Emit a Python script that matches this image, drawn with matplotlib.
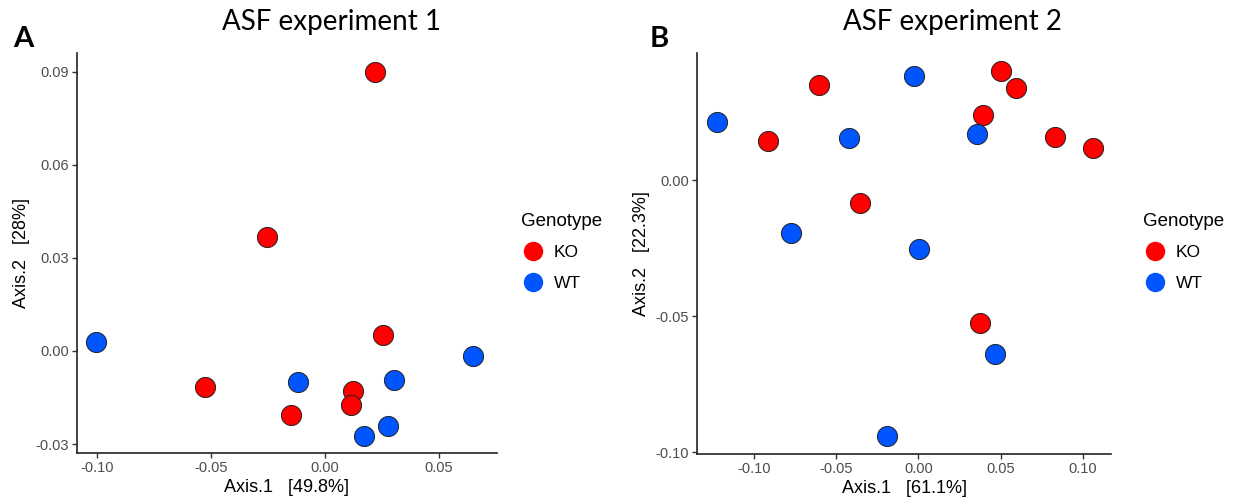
import matplotlib.pyplot as plt
from matplotlib.lines import Line2D

# ASF experiment 1 (PCoA coordinates)
exp1_ko_x = [0.022, -0.0255, 0.0254, -0.0525, 0.0125, 0.0113, -0.0151]
exp1_ko_y = [0.090, 0.0368, 0.0052, -0.0115, -0.0129, -0.0174, -0.0206]
exp1_wt_x = [-0.1004, -0.0117, 0.0649, 0.0305, 0.0276, 0.0173]
exp1_wt_y = [0.003, -0.0101, -0.0015, -0.0094, -0.0241, -0.0273]

# ASF experiment 2
exp2_ko_x = [-0.0916, -0.0602, -0.0355, 0.0503, 0.0592, 0.0392, 0.0827, 0.1061, 0.0375]
exp2_ko_y = [0.0143, 0.0349, -0.0086, 0.0401, 0.0337, 0.0239, 0.0159, 0.0119, -0.0527]
exp2_wt_x = [-0.1226, -0.0422, -0.0774, -0.0026, 0.0002, 0.0355, 0.0467, -0.0189]
exp2_wt_y = [0.0213, 0.0153, -0.0196, 0.0382, -0.0255, 0.0168, -0.0641, -0.094]

x_ticks1 = [-0.10, -0.05, 0.00, 0.05]
y_ticks1 = [-0.03, 0.00, 0.03, 0.06, 0.09]
x_ticks2 = [-0.10, -0.05, 0.00, 0.05, 0.10]
y_ticks2 = [-0.10, -0.05, 0.00]

ko_color = '#FF0000'
wt_color = '#0055FF'

W, H = 1238, 503
fig = plt.figure(figsize=(W / 100, H / 100), dpi=100)


def px_box(x0, x1, y0, y1):
    # pixel box (top-left origin) -> figure fraction
    return [x0 / W, 1 - y1 / H, (x1 - x0) / W, (y1 - y0) / H]


panels = [
    dict(box=px_box(77, 497, 53, 453), kx=exp1_ko_x, ky=exp1_ko_y, wx=exp1_wt_x, wy=exp1_wt_y,
         xt=x_ticks1, yt=y_ticks1, xlim=(-0.1088, 0.0755), ylim=(-0.0329, 0.0961),
         title='ASF experiment 1', letter='A', xlab='Axis.1   [49.8%]', ylab='Axis.2   [28%]',
         title_x=332, letter_x=13, leg_x=512),
    dict(box=px_box(697, 1111, 53, 454), kx=exp2_ko_x, ky=exp2_ko_y, wx=exp2_wt_x, wy=exp2_wt_y,
         xt=x_ticks2, yt=y_ticks2, xlim=(-0.1346, 0.117), ylim=(-0.1007, 0.0467),
         title='ASF experiment 2', letter='B', xlab='Axis.1   [61.1%]', ylab='Axis.2   [22.3%]',
         title_x=952, letter_x=650, leg_x=1134),
]

for p in panels:
    ax = fig.add_axes(p['box'])
    ax.scatter(p['kx'], p['ky'], s=210, color=ko_color, edgecolor='#222222', linewidth=0.7, zorder=3)
    ax.scatter(p['wx'], p['wy'], s=210, color=wt_color, edgecolor='#222222', linewidth=0.7, zorder=3)
    ax.set_xlim(*p['xlim'])
    ax.set_ylim(*p['ylim'])
    ax.set_xticks(p['xt'])
    ax.set_yticks(p['yt'])
    ax.set_xticklabels([f'{v:.2f}' for v in p['xt']])
    ax.set_yticklabels([f'{v:.2f}' for v in p['yt']])
    for side in ['top', 'right']:
        ax.spines[side].set_visible(False)
    for side in ['left', 'bottom']:
        ax.spines[side].set_linewidth(1.2)
        ax.spines[side].set_color('#222222')
    ax.tick_params(axis='both', length=3.5, width=1, color='#333333', labelcolor='#4D4D4D',
                   labelsize=10.5, pad=2)
    for lab in ax.get_xticklabels() + ax.get_yticklabels():
        lab.set_fontfamily('Liberation Sans')
    ax.set_xlabel(p['xlab'], fontsize=13, family='Liberation Sans', labelpad=3)
    ax.set_ylabel(p['ylab'], fontsize=13, family='Liberation Sans', labelpad=4)

    fig.text(p['title_x'] / W, 1 - 22 / H, p['title'], fontsize=20, family='Lato',
             ha='center', va='center')
    fig.text(p['letter_x'] / W, 1 - 39 / H, p['letter'], fontsize=21, family='Lato',
             weight='bold', ha='left', va='center')

    handles = [Line2D([], [], marker='o', linestyle='none', markersize=14,
                      markerfacecolor=ko_color, markeredgecolor='none'),
               Line2D([], [], marker='o', linestyle='none', markersize=14,
                      markerfacecolor=wt_color, markeredgecolor='none')]
    leg = fig.legend(handles, ['KO', 'WT'], title='Genotype', loc='upper left',
                     bbox_to_anchor=(p['leg_x'] / W, 1 - 204 / H), frameon=False,
                     borderpad=0, labelspacing=0.9, handletextpad=0.5, handlelength=1.4,
                     prop={'family': 'Liberation Sans', 'size': 12.5})
    leg.get_title().set_fontsize(13.5)
    leg.get_title().set_fontfamily('Liberation Sans')
    leg._legend_box.align = 'left'

fig.savefig('out.png', dpi=100)
